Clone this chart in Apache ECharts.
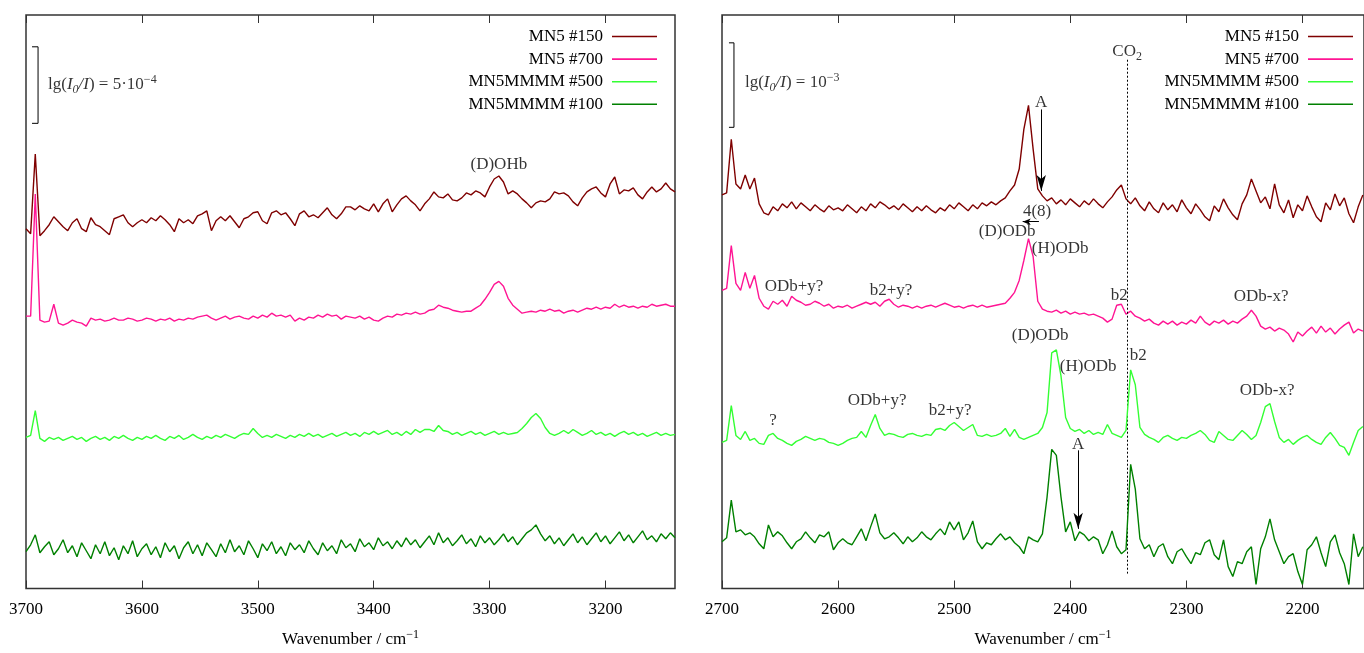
<!DOCTYPE html>
<html><head><meta charset="utf-8">
<script src="https://cdn.jsdelivr.net/npm/echarts@6/dist/echarts.min.js"></script>
<style>html,body{margin:0;padding:0;background:#fff}#c{width:1364px;height:653px}</style>
</head><body><div id="c"></div>
<script>
const FONT = '"Liberation Serif","Times New Roman",serif';
const TXT = '#000';
const seriesNames = ['MN5 #150', 'MN5 #700', 'MN5MMMM #500', 'MN5MMMM #100'];
const seriesColors = ['#7f0000', '#ff1493', '#33ff33', '#008000'];

const leftStart = 3700, rightStart = 2700, gridStep = 4;
const leftRange = [3140, 3700];
const rightRange = [2147, 2700];
const leftTicks = [3700, 3600, 3500, 3400, 3300, 3200];
const rightTicks = [2700, 2600, 2500, 2400, 2300, 2200];

// offset absorbance (arbitrary stacked units), 3700 -> 3140 cm-1
const leftMN5_150 = [
362,357,437,355,360,366,374,369,364,360,
368,372,362,359,373,366,364,360,356,372,
374,376,368,364,368,371,368,373,370,375,
371,366,359,372,368,371,367,375,377,380,
360,370,374,370,375,369,363,372,374,378,
379,370,367,378,380,376,378,372,365,377,
380,374,376,373,378,383,376,372,377,384,
384,381,385,382,380,387,379,387,392,379,
386,392,395,390,386,380,387,392,399,394,
393,397,391,390,393,398,396,400,398,394,
404,412,415,409,397,400,397,392,388,383,
388,390,389,392,399,397,398,395,389,385,
393,399,402,404,398,394,407,414,397,401,
400,403,396,392,399,404,399,402,408,402,399];
const leftMN5_700 = [
274,274,397,270,268,269,286,267,265,267,
270,268,267,264,272,270,271,269,270,272,
270,270,272,271,269,270,272,271,269,271,
270,272,269,271,270,272,271,273,274,275,
272,270,272,274,271,273,274,272,271,274,
272,275,273,277,274,275,273,275,269,272,
270,273,272,275,273,276,274,275,271,274,
273,272,274,271,273,270,269,272,274,273,
276,275,277,276,278,276,277,280,281,285,
283,282,280,279,278,279,279,282,285,291,
298,306,309,304,292,285,281,277,278,279,
278,280,279,281,279,280,277,279,280,278,
280,282,281,283,281,283,282,286,283,285,
283,284,282,284,283,286,284,285,286,284,284];
const leftMM_500 = [
152,154,179,151,148,152,150,152,149,151,
153,150,152,148,151,153,150,152,149,153,
151,154,151,149,152,150,153,151,154,151,
149,153,151,154,150,152,155,152,150,153,
151,154,152,155,153,151,154,156,155,161,
156,152,154,152,155,153,151,154,152,155,
153,156,153,155,152,154,156,153,155,157,
154,156,153,157,155,158,155,157,159,155,
157,154,158,155,160,157,160,160,158,164,
159,158,155,157,154,156,158,155,157,154,
156,158,155,157,155,156,157,161,166,172,
176,171,162,156,154,156,159,156,160,157,
154,156,159,155,157,154,156,153,156,158,
155,157,154,156,153,155,157,154,156,154,155];
const leftMM_100 = [
37,44,54,36,42,47,34,40,49,36,
43,32,46,38,30,44,35,47,33,41,
29,43,35,48,32,40,45,34,42,31,
46,37,43,30,41,47,35,44,33,46,
39,32,45,36,49,37,43,34,48,40,
31,45,38,47,35,42,33,46,39,44,
36,48,40,34,46,38,43,35,49,41,
45,37,50,42,46,39,51,43,47,40,
48,42,51,44,49,41,47,53,44,56,
46,51,43,48,54,45,50,42,53,46,
51,44,49,55,47,52,44,50,56,59,
64,55,48,53,45,51,43,49,55,46,
52,44,50,56,47,53,45,51,57,48,
54,46,52,58,49,53,47,55,50,56,51];

// 2700 -> 2148 cm-1
const rightMN5_150 = [
396,398,452,407,402,416,402,413,387,378,
376,384,380,387,383,389,382,388,384,380,
386,382,379,385,381,383,380,386,382,378,
384,380,387,383,389,386,382,385,381,387,
383,379,384,380,385,381,378,383,380,386,
382,388,384,380,386,382,388,385,389,386,
390,393,400,406,422,462,486,442,402,395,
390,393,387,391,386,392,388,384,390,386,
392,387,383,389,394,401,406,392,387,393,
385,380,389,382,378,388,381,386,379,391,
383,377,387,381,374,370,385,379,392,383,
376,371,387,396,412,400,388,394,382,407,
386,378,391,373,386,380,395,384,374,369,
388,381,397,385,393,377,368,384,396];
const rightMN5_700 = [
300,302,345,307,300,318,302,315,292,284,
281,289,286,290,284,294,290,288,285,286,
289,287,284,286,282,284,283,285,282,284,
286,288,286,288,284,289,291,286,283,285,
284,282,284,282,284,285,283,285,287,285,
283,284,282,284,285,283,285,283,284,285,
286,287,292,298,310,330,352,334,289,281,
279,278,280,277,279,276,278,276,277,275,
276,274,272,268,271,285,286,276,279,274,
272,269,271,267,265,269,266,269,265,268,
266,270,267,274,268,265,269,267,270,266,
269,267,271,274,280,274,264,261,263,259,
262,260,256,248,258,254,259,263,257,264,
258,262,256,261,265,268,257,261,259];
const rightMM_500 = [
147,149,184,154,150,158,149,151,146,145,
154,156,151,149,146,144,148,150,153,151,
149,151,150,147,146,144,146,149,151,152,
158,152,164,175,161,154,156,155,153,152,
155,156,154,153,155,154,160,161,159,164,
167,163,159,162,165,154,153,155,153,154,
156,161,153,160,152,150,152,154,156,162,
177,237,240,214,172,161,158,160,156,159,
155,157,155,165,156,154,152,159,220,205,
162,155,152,150,147,152,154,151,149,152,
151,154,156,159,155,149,147,158,154,150,
149,154,159,155,150,154,167,183,186,168,
152,147,150,145,149,152,154,150,147,145,
152,157,151,144,142,134,147,159,163];
const rightMM_100 = [
47,51,89,57,59,54,56,52,45,40,
64,52,57,53,46,40,47,50,57,51,
46,54,52,57,39,46,50,46,44,52,
60,48,62,75,56,50,52,56,51,45,
52,47,51,57,52,49,55,60,54,67,
59,67,49,56,68,47,40,46,44,50,
55,49,52,46,42,35,52,49,47,55,
92,140,134,92,57,67,48,57,54,48,
52,49,35,44,58,42,35,39,125,100,
50,40,44,32,42,45,32,25,37,40,
32,25,36,34,46,49,34,29,49,22,
12,27,25,37,42,4,40,52,70,49,
37,25,32,35,17,4,39,44,52,36,
22,47,54,36,25,4,55,32,42];

// scale bars [wavenumber, height]
const leftScaleBar = [[3694.8, 545], [3689.6, 545], [3689.6, 468], [3694.8, 468]];
const rightScaleBar = [[2694, 549], [2689.7, 549], [2689.7, 464], [2694, 464]];

// annotations: [text, wavenumber, height, align]
const leftLabels = [
  ['{n|lg(}{i|I}{sub|0}{i|/I}{n|) = 5·10}{sup|−4}', 3681, 507, 'left'],
  ['(D)OHb', 3292, 427, 'center']
];
const rightLabels = [
  ['{n|lg(}{i|I}{sub|0}{i|/I}{n|) = 10}{sup|−3}', 2680.2, 509, 'left'],
  ['{n|CO}{sub2|2}', 2351, 540, 'center'],
  ['A', 2425, 489, 'center'],
  ['4(8)', 2428.6, 379, 'center'],
  ['(D)ODb', 2454.4, 359, 'center'],
  ['(H)ODb', 2408.7, 342, 'center'],
  ['ODb+y?', 2638, 304, 'center'],
  ['b2+y?', 2554.4, 300, 'center'],
  ['b2', 2357.9, 295, 'center'],
  ['ODb-x?', 2235.6, 294, 'center'],
  ['(D)ODb', 2426, 255, 'center'],
  ['(H)ODb', 2384.6, 223, 'center'],
  ['b2', 2341.5, 234, 'center'],
  ['ODb-x?', 2230.4, 199, 'center'],
  ['?', 2656, 169, 'center'],
  ['ODb+y?', 2566.4, 189, 'center'],
  ['b2+y?', 2503.5, 179, 'center'],
  ['A', 2393.2, 145, 'center']
];
// arrows [w1, h1, w2, h2] (head at second point)
const rightArrows = [[2425, 482, 2425, 400], [2393.2, 139, 2393.2, 60], [2427, 369, 2441, 369]];
const co2Line = [2351, 532, 2351, 15];

const rich = {
  n: {fontFamily: FONT, fontSize: 17, color: TXT, lineHeight: 22},
  i: {fontFamily: FONT, fontSize: 17, fontStyle: 'italic', color: TXT, lineHeight: 22},
  sub: {fontFamily: FONT, fontSize: 12, fontStyle: 'italic', color: TXT, lineHeight: 12, verticalAlign: 'bottom'},
  sub2: {fontFamily: FONT, fontSize: 12, color: TXT, lineHeight: 12, verticalAlign: 'bottom'},
  sup: {fontFamily: FONT, fontSize: 12, color: TXT, lineHeight: 12, verticalAlign: 'top'}
};

function pairs(start, vals) { return vals.map((v, i) => [start - gridStep * i, v]); }

const leftSets = [leftMN5_150, leftMN5_700, leftMM_500, leftMM_100];
const rightSets = [rightMN5_150, rightMN5_700, rightMM_500, rightMM_100];

const series = [];
function addSpectra(sets, start, gi) {
  sets.forEach((vals, k) => {
    series.push({
      type: 'line', name: seriesNames[k], xAxisIndex: gi * 2, yAxisIndex: gi,
      data: pairs(start, vals), symbol: 'none', showSymbol: false,
      lineStyle: {color: seriesColors[k], width: 1.4}, itemStyle: {color: seriesColors[k]},
      animation: false, z: 3 + k
    });
  });
}
addSpectra(leftSets, leftStart, 0);
addSpectra(rightSets, rightStart, 1);

function labelSeries(list, gi) {
  return {
    type: 'scatter', xAxisIndex: gi * 2, yAxisIndex: gi, symbolSize: 0, silent: true, z: 10,
    itemStyle: {color: 'transparent'},
    data: list.map(l => ({
      value: [l[1], l[2]],
      label: {
        show: true, position: [0, 0], align: l[3], verticalAlign: 'middle',
        formatter: l[0].startsWith('{') ? l[0] : '{n|' + l[0] + '}', rich: rich
      }
    }))
  };
}
series.push(labelSeries(leftLabels, 0));
series.push(labelSeries(rightLabels, 1));

series.push({
  type: 'line', name: 'scaleL', xAxisIndex: 0, yAxisIndex: 0, data: leftScaleBar,
  symbol: 'none', lineStyle: {color: '#000', width: 1}, silent: true
});
series.push({
  type: 'line', name: 'scaleR', xAxisIndex: 2, yAxisIndex: 1, data: rightScaleBar,
  symbol: 'none', lineStyle: {color: '#000', width: 1}, silent: true,
  markLine: {
    silent: true, animation: false, label: {show: false},
    lineStyle: {color: '#000', width: 1, type: 'solid'},
    data: rightArrows.map((a, idx) => [
      {coord: [a[0], a[1]], symbol: 'none'},
      {coord: [a[2], a[3]], symbol: 'arrow', symbolSize: idx === 2 ? [5, 8] : [7, 16]}
    ]).concat([[
      {coord: [co2Line[0], co2Line[1]], symbol: 'none', lineStyle: {type: [2, 2], width: 1, color: '#000'}},
      {coord: [co2Line[2], co2Line[3]], symbol: 'none'}
    ]])
  }
});

function xAxes(gi, range, ticks) {
  const common = {
    gridIndex: gi, type: 'value', min: range[0], max: range[1], inverse: true,
    axisLine: {show: false}, splitLine: {show: false}
  };
  return [
    Object.assign({}, common, {
      position: 'bottom',
      axisTick: {show: true, inside: true, length: 8, customValues: ticks, lineStyle: {color: '#333', width: 1}},
      axisLabel: {customValues: ticks, fontFamily: FONT, fontSize: 17, color: TXT, margin: 13,
        formatter: v => String(v)},
      name: '{a|Wavenumber / cm}{b|−1}', nameLocation: 'middle', nameGap: 40,
      nameTextStyle: {rich: {
        a: {fontFamily: FONT, fontSize: 17, color: TXT, lineHeight: 22},
        b: {fontFamily: FONT, fontSize: 12, color: TXT, lineHeight: 12, verticalAlign: 'top'}
      }}
    }),
    Object.assign({}, common, {
      position: 'top',
      axisTick: {show: true, inside: true, length: 8, customValues: ticks, lineStyle: {color: '#333', width: 1}},
      axisLabel: {show: false}
    })
  ];
}

const legendCommon = {
  data: seriesNames, orient: 'vertical', align: 'right', top: 28, padding: 0,
  icon: 'rect', itemWidth: 45, itemHeight: 1.6, itemGap: 5.6, selectedMode: false,
  textStyle: {fontFamily: FONT, fontSize: 17, color: TXT, lineHeight: 17, padding: [0, 4, 0, 0]}
};

const option = {
  animation: false,
  backgroundColor: '#fff',
  grid: [
    {left: 26, right: 689, top: 15, bottom: 61, show: true, borderColor: '#333', borderWidth: 1.5},
    {left: 722, right: -3, top: 15, bottom: 61, show: true, borderColor: '#333', borderWidth: 1.5}
  ],
  xAxis: xAxes(0, leftRange, leftTicks).concat(xAxes(1, rightRange, rightTicks)),
  yAxis: [
    {gridIndex: 0, type: 'value', min: 0, max: 577, show: false},
    {gridIndex: 1, type: 'value', min: 0, max: 577, show: false}
  ],
  legend: [
    Object.assign({}, legendCommon, {right: 707}),
    Object.assign({}, legendCommon, {right: 11})
  ],
  series: series
};

const chart = echarts.init(document.getElementById('c'), null, {renderer: 'canvas'});
chart.setOption(option);
</script>
</body></html>
